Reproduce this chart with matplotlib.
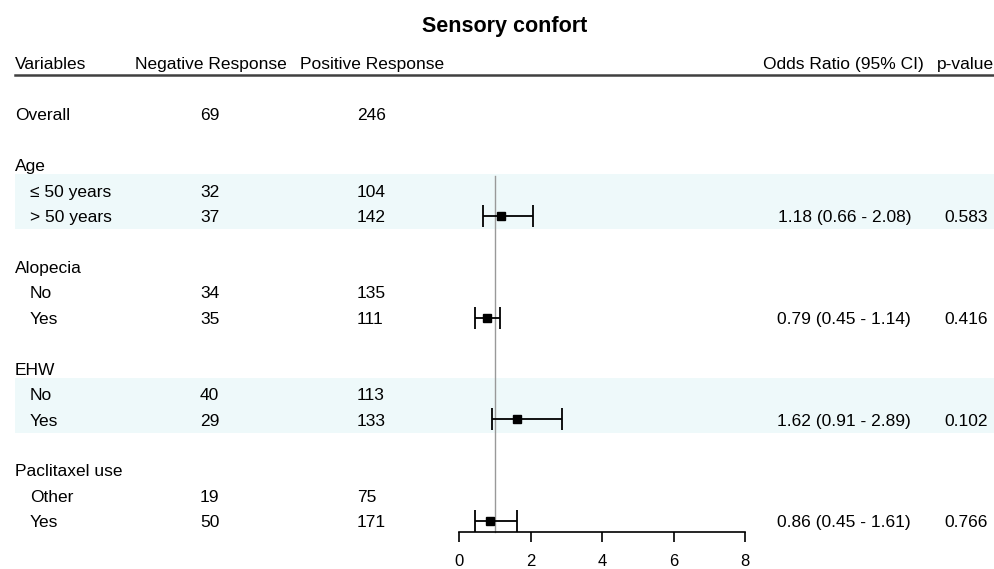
import matplotlib
matplotlib.use("Agg")
import matplotlib.pyplot as plt
import matplotlib.transforms as mtransforms
from matplotlib.patches import Rectangle

plt.rcParams['font.family'] = ['Liberation Sans', 'DejaVu Sans']

# dane
labels = ["Overall", "", "Age", "≤ 50 years", "> 50 years", "",
          "Alopecia", "No", "Yes", "", "EHW", "No", "Yes", "",
          "Paclitaxel use", "Other", "Yes"]
indent = [0, 0, 0, 1, 1, 0, 0, 1, 1, 0, 0, 1, 1, 0, 0, 1, 1]
negative = ["69", "", "", "32", "37", "", "", "34", "35", "", "", "40", "29", "", "", "19", "50"]
positive = ["246", "", "", "104", "142", "", "", "135", "111", "", "", "113", "133", "", "", "75", "171"]

or_rows = [4, 8, 12, 16]
or_est = [1.18, 0.79, 1.62, 0.86]
or_low = [0.66, 0.45, 0.91, 0.45]
or_high = [2.08, 1.14, 2.89, 1.61]
p_values = ["0.583", "0.416", "0.102", "0.766"]

shaded = [(3, 4), (11, 12)]
xticks = [0, 2, 4, 6, 8]

W, H = 994, 569
fig = plt.figure(figsize=(W / 100, H / 100), dpi=100)

# os wykresu lesnego
ax_left, ax_right = 459 / W, 745 / W
ax_top, ax_bot = 100, 532
ax = fig.add_axes([ax_left, 1 - ax_bot / H, ax_right - ax_left, (ax_bot - ax_top) / H])
ax.set_xlim(0, 8)
ax.set_ylim(16.43, -0.55)
for s in ["top", "left", "right"]:
    ax.spines[s].set_visible(False)
ax.spines["bottom"].set_linewidth(1.2)
ax.set_yticks([])
ax.set_xticks(xticks)
ax.tick_params(axis="x", length=7, width=1.2, labelsize=12, pad=9)

trans = mtransforms.blended_transform_factory(fig.transFigure, ax.transData)

# tlo wierszy
for a, b in shaded:
    ax.add_patch(Rectangle((15 / W, a - 0.63), 1 - 15 / W, b - a + 1.15,
                           transform=trans, facecolor="#eef9fa", edgecolor="none",
                           clip_on=False, zorder=0))

# linia odniesienia
ax.plot([1, 1], [2.45, 16.43], color="#999999", lw=1.0, zorder=1, clip_on=False)

ax.errorbar(or_est, or_rows, xerr=[[e - l for e, l in zip(or_est, or_low)],
                                   [h - e for e, h in zip(or_est, or_high)]],
            fmt="s", color="black", ms=6, capsize=8, elinewidth=1.3, capthick=1.3, zorder=3)

fs = 12.5
dy = 0.07
px = lambda x: x / W

# tytul i naglowki
ax.text(px(505), -3.42, "Sensory confort", transform=trans, ha="center", va="center",
        fontsize=15.5, fontweight="bold")
hy = -2.0 + dy
ax.text(px(15), hy, "Variables", transform=trans, va="center", fontsize=fs)
ax.text(px(135), hy, "Negative Response", transform=trans, va="center", fontsize=fs)
ax.text(px(300), hy, "Positive Response", transform=trans, va="center", fontsize=fs)
ax.text(px(924), hy, "Odds Ratio (95% CI)", transform=trans, va="center", ha="right", fontsize=fs)
ax.text(px(994), hy, "p-value", transform=trans, va="center", ha="right", fontsize=fs)
ax.plot([px(15), 1.0], [-1.55, -1.55], transform=trans, color="#404040", lw=1.8, clip_on=False)

for i, lab in enumerate(labels):
    x0 = 30 if indent[i] else 15
    ax.text(px(x0), i + dy, lab, transform=trans, va="center", fontsize=fs)
    ax.text(px(200), i + dy, negative[i], transform=trans, va="center", fontsize=fs)
    ax.text(px(357), i + dy, positive[i], transform=trans, va="center", fontsize=fs)

for r, e, l, h, p in zip(or_rows, or_est, or_low, or_high, p_values):
    ax.text(px(911), r + dy, f"{e:.2f} ({l:.2f} - {h:.2f})", transform=trans, va="center",
            ha="right", fontsize=fs)
    ax.text(px(988), r + dy, p, transform=trans, va="center", ha="right", fontsize=fs)

fig.savefig("out.png", dpi=100)
